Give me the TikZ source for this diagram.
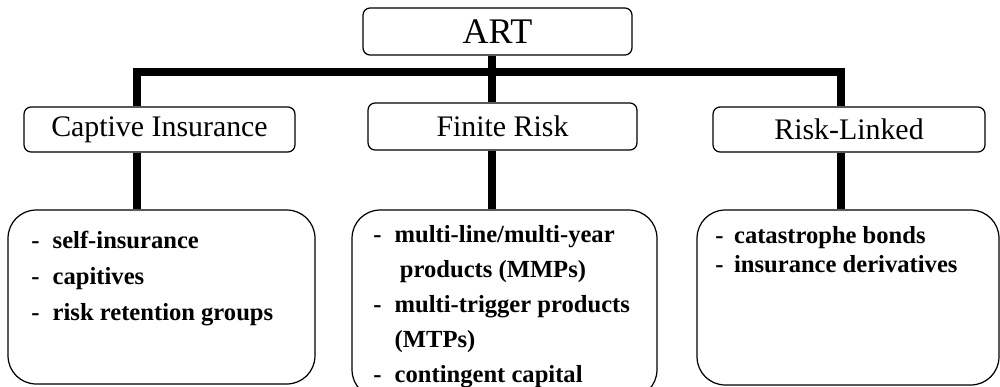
\documentclass[tikz,border=0pt]{standalone}
\usepackage{fontspec}
\setmainfont{Liberation Serif}

\begin{document}
\begin{tikzpicture}[x=0.02cm,y=-0.02cm,
		head/.style={draw,rounded corners=4pt,line width=0.7pt,inner sep=0pt,font=\fontsize{17}{20}\selectfont},
		listbox/.style={draw,rounded corners=16pt,line width=0.7pt,inner sep=0pt},
		listtext/.style={anchor=north west,inner sep=0pt},
		trunk/.style={line width=4.5pt}]
		\useasboundingbox (0,0) rectangle (1000,386);
		% top and second row
		\node[head,minimum width=5.38cm,minimum height=0.94cm,font=\fontsize{20.5}{24}\selectfont] (art) at (497.5,31.5) {ART};
		\node[head,minimum width=5.42cm,minimum height=0.9cm] (captive) at (159.5,129.5) {Captive Insurance};
		\node[head,minimum width=5.38cm,minimum height=0.94cm] (finite) at (502.5,126.5) {Finite Risk};
		\node[head,minimum width=5.44cm,minimum height=0.9cm] (risk) at (849,129.5) {Risk-Linked};
		% lists
		\node[listbox,minimum width=6.14cm,minimum height=3.48cm] (capbox) at (161.5,297) {};
		\node[listbox,minimum width=6.1cm,minimum height=3.76cm] (finbox) at (504.5,304) {};
		\node[listbox,minimum width=6.04cm,minimum height=3.5cm] (riskbox) at (848,297.5) {};
		\node[listtext] (captext) at (31,223) {\bfseries\fontsize{14}{20.5}\selectfont
			\begin{tabular}{@{}l@{\hspace{7.5pt}}l@{}}
				- & self-insurance\\
				- & capitives\\
				- & risk retention groups
			\end{tabular}};
		\node[listtext] (fintext) at (373,217.5) {\bfseries\fontsize{14}{19.9}\selectfont
			\begin{tabular}{@{}l@{\hspace{7.5pt}}l@{}}
				- & multi-line/multi-year\\
				  & \hspace{3pt}products (MMPs)\\
				- & multi-trigger products\\
				  & (MTPs)\\
				- & contingent capital
			\end{tabular}};
		\node[listtext] (risktext) at (715,222.7) {\bfseries\fontsize{14}{16.5}\selectfont
			\begin{tabular}{@{}l@{\hspace{6pt}}l@{}}
				- & catastrophe bonds\\
				- & insurance derivatives
			\end{tabular}};
		% connectors
		\coordinate (jl) at (137,72);
		\coordinate (jm) at (492,72);
		\coordinate (jr) at (841,72);
		\draw[trunk] (jl |- captive.north) -- (jl) -- (jr) -- (jr |- risk.north);
		\draw[trunk] (jm |- art.south) -- (jm |- finite.north);
		\draw[trunk] (jl |- captive.south) -- (jl |- capbox.north);
		\draw[trunk] (jm |- finite.south) -- (jm |- finbox.north);
		\draw[trunk] (jr |- risk.south) -- (jr |- riskbox.north);
	\end{tikzpicture}
\end{document}
